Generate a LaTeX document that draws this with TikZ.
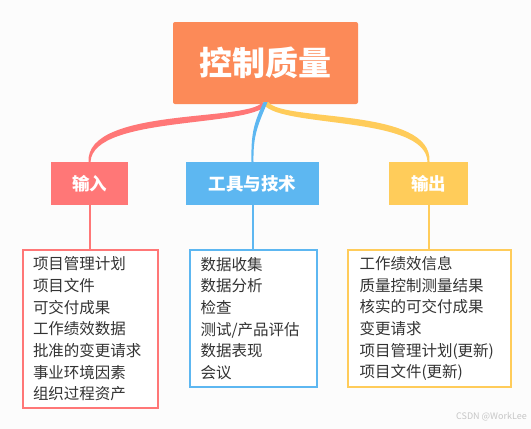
\documentclass[tikz,border=0pt]{standalone}
\usepackage{fontspec}
\newfontfamily\cjk{Noto Sans CJK SC}
\usetikzlibrary{calc}
\definecolor{cOrange}{HTML}{FC8A58}
\definecolor{cRed}{HTML}{FF7777}
\definecolor{cBlue}{HTML}{5DB7F1}
\definecolor{cYellow}{HTML}{FFCC5A}
\definecolor{cText}{HTML}{333333}
\definecolor{cBg}{HTML}{FCFCFC}
\tikzset{
  rootbox/.style={fill=cOrange, draw=none, rounded corners=2pt, text=white,
    minimum width=185pt, minimum height=82pt, inner sep=0pt,
    font={\cjk\bfseries\fontsize{33}{36}\selectfont}},
  catbox/.style={fill=#1, draw=none, text=white, minimum height=43pt, inner sep=0pt,
    font={\cjk\bfseries\fontsize{17.5}{20}\selectfont}},
  listbox/.style={draw=#1, line width=2pt, fill=white, text=cText, align=left,
    inner xsep=10pt, inner ysep=0pt, anchor=north west,
    font={\cjk\fontsize{15.5}{21.7}\selectfont}},
  stem/.style={draw=#1, line width=2pt},
  mark text/.style={text=gray!45, font={\cjk\fontsize{9}{10}\selectfont}, inner sep=0pt}
}
\begin{document}
\begin{tikzpicture}[x=1pt,y=-1pt]
\fill[cBg] (0,0) rectangle (531,429);
\useasboundingbox (0,0) rectangle (531,429);

\node[rootbox] (root) at (265.5,63) {控制质量};

\node[catbox=cRed, minimum width=77pt] (in) at (89.5,183.5) {输入};
\node[catbox=cBlue, minimum width=133pt] (tool) at (252.5,183.5) {工具与技术};
\node[catbox=cYellow, minimum width=79pt] (out) at (428.5,183.5) {输出};

% tapered branches
\fill[cRed] ($(root.south)+(-3,-2)$) .. controls (248,122) and (86,107) .. ($(in.north)+(-1,0)$)
  -- ($(in.north)+(1,0)$) .. controls (93,114) and (259,129) .. ($(root.south)+(3,-2)$) -- cycle;
\fill[cYellow] ($(root.south)+(-3,-2)$) .. controls (272,129) and (426,114) .. ($(out.north)+(-1,0)$)
  -- ($(out.north)+(1,0)$) .. controls (433,107) and (283,122) .. ($(root.south)+(3,-2)$) -- cycle;
\fill[cBlue] ($(root.south)+(-2,-2)$) .. controls (253,125) and (251,135) .. ($(tool.north)+(-1,0)$)
  -- ($(tool.north)+(1,0)$) .. controls (253,135) and (258,125) .. ($(root.south)+(2,-2)$) -- cycle;

% lists
\node[listbox=cRed, text width=115pt, minimum width=135pt, minimum height=158pt] (inlist) at (22,249)
  {项目管理计划\\项目文件\\可交付成果\\工作绩效数据\\批准的变更请求\\事业环境因素\\组织过程资产};
\node[listbox=cBlue, text width=106pt, minimum width=127pt, minimum height=137pt] (toollist) at (189,249)
  {数据收集\\数据分析\\检查\\测试/产品评估\\数据表现\\会议};
\node[listbox=cYellow, text width=140pt, minimum width=163pt, minimum height=137pt] (outlist) at (347,249)
  {工作绩效信息\\质量控制测量结果\\核实的可交付成果\\变更请求\\项目管理计划(更新)\\项目文件(更新)};

\draw[stem=cRed] (in.south) -- (in.south |- inlist.north);
\draw[stem=cBlue] (tool.south) -- (tool.south |- toollist.north);
\draw[stem=cYellow] (out.south) -- (out.south |- outlist.north);

\node[mark text, anchor=east] (wm) at (527,417) {CSDN @WorkLee};
\end{tikzpicture}
\end{document}
